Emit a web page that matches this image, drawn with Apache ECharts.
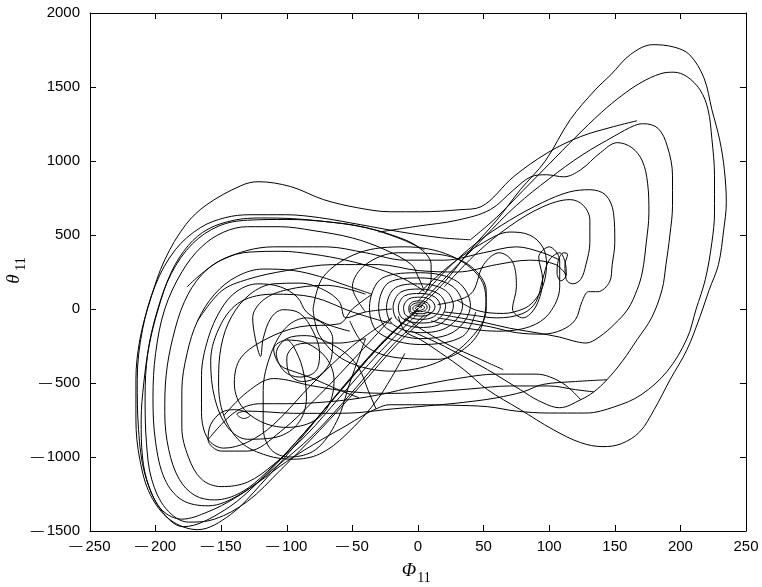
<!DOCTYPE html>
<html>
<head>
<meta charset="utf-8">
<script src="https://cdn.jsdelivr.net/npm/echarts@6/dist/echarts.min.js"></script>
<style>
html,body{margin:0;padding:0;background:#fff;}
#chart{width:762px;height:587px;}
</style>
</head>
<body>
<div id="chart"></div>
<script>
// Axis ticks
const xTicks = [-250, -200, -150, -100, -50, 0, 50, 100, 150, 200, 250];
const yTicks = [-1500, -1000, -500, 0, 500, 1000, 1500, 2000];

// Trajectory pieces: [phi11, theta11]
const centerSpiral = [[2,6],[3,14],[1,18],[-1,14],[-2,5],[-1,-5],[1,-10],[3,-6],
[5,8],[4,22],[1,28],[-2,24],[-4,6],[-3,-12],[1,-18],[5,-12],
[7,10],[6,32],[2,42],[-3,36],[-6,8],[-5,-22],[2,-32],[7,-24],
[9,12],[7,42],[2,55],[-4,48],[-7,10],[-6,-30],[2,-48],[9,-35],
[13,14],[10,60],[2,80],[-7,68],[-11,10],[-9,-45],[2,-70],[12,-52],
[17,16],[13,80],[2,105],[-10,90],[-15,10],[-12,-62],[2,-95],[15,-72],
[21,18],[16,100],[2,135],[-13,115],[-19,10],[-15,-80],[2,-125],[18,-95],
[27,20],[21,125],[2,170],[-17,145],[-24,10],[-19,-105],[2,-160],[23,-120],
[34,22],[26,155],[2,210],[-22,180],[-30,10],[-24,-130],[2,-200],[28,-150],
[40,25],[30,185],[2,245],[-27,210],[-37,10],[-30,-160],[2,-240],[34,-185],[44,-20]];

const loopL1 = [[0,5],[-29,-241],[-59,-545],[-90,-883],[-120,-1187],[-143,-1390],[-168,-1491],[-189,-1424],[-204,-1255],[-212,-1018],[-215,-748],[-215,-478],[-212,-207],[-204,63],[-193,333],[-177,570],[-161,705],[-135,833],[-122,860],[-97,827],[-72,739],[-46,684],[-21,657],[2,657],[32,671],[48,691],[73,895],[99,1057],[124,1165],[149,1232],[167,1272]];

const loopL2 = [[0,-10],[-25,-207],[-55,-512],[-86,-829],[-116,-1120],[-147,-1356],[-179,-1471],[-196,-1356],[-208,-1120],[-213,-816],[-214,-478],[-210,-140],[-200,165],[-185,400],[-166,549],[-147,617],[-128,637],[-101,637],[-75,617],[-44,570],[-14,522],[17,482],[40,468]];

const loopL3 = [[5,-40],[-20,-250],[-50,-560],[-80,-850],[-110,-1080],[-135,-1250],[-160,-1330],[-180,-1290],[-193,-1150],[-200,-900],[-202,-600],[-200,-300],[-193,0],[-180,250],[-165,420],[-148,520],[-130,556],[-105,556],[-80,530],[-50,480],[-25,400],[-5,300],[0,220],[4,140]];

const loopL4 = [[0,0],[-30,-260],[-60,-560],[-90,-870],[-115,-1100],[-135,-1240],[-155,-1290],[-170,-1260],[-182,-1150],[-190,-950],[-193,-700],[-192,-450],[-187,-200],[-178,50],[-165,230],[-148,340],[-128,385],[-105,390],[-80,370],[-55,330],[-30,270],[-10,200],[5,120]];

const loopL5 = [[0,-30],[-30,-300],[-60,-600],[-85,-850],[-110,-1050],[-130,-1170],[-150,-1200],[-165,-1150],[-175,-1000],[-180,-800],[-180,-550],[-176,-300],[-168,-80],[-155,100],[-138,220],[-118,270],[-95,260],[-75,220],[-55,160],[-35,100]];

const loopL6 = [[-20,-60],[-50,-250],[-80,-500],[-110,-780],[-130,-900],[-148,-940],[-160,-880],[-165,-700],[-165,-450],[-160,-200],[-150,0],[-138,120],[-122,170],[-105,150],[-92,80],[-85,-20],[-70,-100],[-52,-150]];

const loopL7 = [[-40,100],[-70,160],[-100,130],[-118,60],[-126,-60],[-124,-200],[-120,-320],[-118,-200],[-112,-60],[-103,-5],[-90,-30],[-80,-150],[-75,-300],[-78,-420],[-90,-460],[-102,-420],[-108,-300],[-100,-200],[-85,-180],[-70,-220],[-55,-300],[-45,-400],[-38,-550],[-32,-675]];

const loopL8 = [[-20,-60],[-45,-300],[-75,-580],[-105,-830],[-130,-960],[-150,-960],[-160,-883],[-158,-780],[-150,-700],[-140,-680],[-133,-690],[-128,-720],[-133,-740],[-138,-710],[-130,-690],[-115,-695],[-95,-705],[-70,-705],[-45,-700],[-25,-680],[0,-660],[25,-640],[45,-620],[60,-600],[80,-560],[95,-510],[120,-490],[144,-478]];

const loopL9 = [[-10,-300],[-30,-600],[-55,-850],[-75,-980],[-95,-1015],[-115,-990],[-135,-900],[-148,-720],[-152,-500],[-150,-250],[-142,-50],[-128,100],[-110,170],[-90,175],[-72,130],[-60,50],[-55,-60],[-40,-20],[-20,0]];

const loopL10 = [[-40,-200],[-52,-500],[-62,-760],[-78,-950],[-98,-1000],[-112,-950],[-118,-800],[-118,-550],[-112,-300],[-100,-120],[-85,-60],[-72,-100],[-65,-200],[-66,-330],[-75,-450],[-88,-490],[-98,-440],[-100,-330],[-92,-240],[-80,-230],[-60,-230],[-40,-200]];

const loopL11 = [[10,-20],[-15,-230],[-45,-530],[-75,-820],[-105,-1090],[-130,-1300],[-155,-1420],[-175,-1440],[-192,-1350],[-203,-1150],[-207,-900],[-208,-600],[-206,-300],[-199,-20],[-188,240],[-172,440],[-152,560],[-130,600],[-100,605],[-70,590],[-40,550],[-15,480],[5,400]];

const loopL12 = [[-35,100],[-50,0],[-60,-100],[-90,-120],[-115,-200],[-135,-330],[-140,-500],[-135,-650],[-120,-760],[-100,-800],[-80,-760],[-68,-650],[-64,-480],[-70,-330],[-85,-230],[-100,-210],[-110,-270],[-105,-380],[-92,-430],[-80,-470],[-62,-540],[-45,-600]];

const loopL13 = [[-20,-100],[-50,-20],[-80,80],[-110,100],[-135,50],[-150,-100],[-158,-350],[-155,-600],[-145,-800],[-130,-880],[-110,-870],[-92,-780],[-85,-600],[-88,-400],[-95,-250],[-100,-200]];

const loopR1 = [[0,0],[20,180],[40,400],[60,600],[78,806],[97,1000],[116,1279],[135,1480],[147,1583],[162,1720],[179,1786],[195,1770],[207,1718],[218,1560],[224,1347],[230,1140],[233.5,941],[235,720],[233,535],[229,300],[222,131],[215,-50],[205,-275],[192,-480],[180,-680],[169,-830],[155,-910],[141,-930],[124,-903],[103,-815],[78,-680],[53,-545],[35,-410],[17,-295],[2,-207],[-10,-150],[-15,-50]];

const loopR2 = [[40,468],[60,620],[80,800],[100,980],[120,1160],[140,1330],[155,1440],[170,1530],[185,1590],[195,1600],[205,1570],[215,1480],[221,1350],[224,1150],[226,900],[226,650],[224,450],[219,200],[212,0],[205,-200],[190,-420],[170,-580],[150,-660],[128,-703],[100,-703],[75,-690],[53,-660],[25,-650],[2,-647],[-22,-647],[-32,-675],[-42,-720],[-55,-790],[-73,-880],[-100,-1030],[-120,-1160],[-140,-1280],[-160,-1370],[-180,-1420],[-195,-1360],[-205,-1200],[-210,-1000],[-211,-750],[-209,-500],[-205,-250],[-198,0],[-188,250],[-175,430],[-160,540],[-140,600],[-120,615],[-95,610],[-70,590],[-45,560],[-20,500],[0,420],[10,300],[10,200],[5,100]];

const loopR3 = [[0,20],[25,250],[50,480],[75,700],[100,880],[125,1040],[150,1170],[165,1240],[172,1252],[183,1220],[190,1100],[194,900],[194,700],[192,500],[189,300],[186,130],[178,-60],[167,-207],[156,-350],[144,-478],[134,-560],[124,-613],[108,-667],[92,-620],[78,-545],[53,-410],[35,-322],[15,-230],[-5,-150]];

const loopR4 = [[-30,520],[0,560],[30,600],[55,671],[73,806],[86,893],[98,907],[111,893],[124,941],[139,1056],[152,1124],[163,1090],[171,1000],[175,850],[176,650],[174,450],[171,250],[167,130],[160,0],[150,-100],[138,-190],[128,-230],[118,-215],[108,-190],[90,-160],[70,-130],[50,-90],[27,-52],[5,-20]];

const loopR5 = [[0,50],[20,250],[45,450],[70,600],[95,720],[115,790],[131,806],[143,770],[149,650],[150,450],[148,300],[146,183],[137,117],[130,117],[125,50],[120,-72],[110,-140],[95,-170],[75,-160],[55,-120],[35,-90],[15,-60]];

const loopR6 = [[20,150],[45,380],[70,560],[95,690],[116,739],[126,700],[131,600],[131,450],[128,300],[124,200],[118,170],[113,200],[112,300],[114,370],[111,380],[107,330],[106,240],[109,190],[113,230],[112,320],[108,380],[100,330],[95,200],[90,50],[80,-30],[60,-60],[40,-40],[20,-20]];

const loopR7 = [[15,30],[40,100],[50,300],[62,380],[72,320],[75,150],[72,0],[80,-60],[90,20],[95,200],[92,350],[100,420],[108,330],[108,150],[100,-30],[85,-120],[60,-150],[30,-120],[10,-80]];

const loopR8 = [[0,100],[25,300],[50,450],[70,520],[85,500],[95,420],[98,300],[95,150],[88,50],[80,0],[65,-30],[45,-10],[30,60]];

const ringMid1 = [[-40,-20],[-50,150],[-40,300],[-15,380],[15,370],[40,290],[52,120],[50,-80],[38,-250],[15,-340],[-15,-330],[-40,-250],[-52,-80]];
const ringMid2 = [[-80,0],[-72,220],[-45,380],[-10,420],[25,360],[48,200],[52,0],[40,-200],[15,-360],[-20,-420],[-55,-350],[-75,-180],[-80,0]];

const midHigh1 = [[-176,150],[-150,330],[-110,420],[-70,420],[-40,380],[-10,330],[20,330],[50,380],[75,420],[95,380],[108,330]];
const midHigh2 = [[-168,-80],[-150,120],[-130,200],[-100,260],[-65,300],[-30,300],[0,260],[30,250],[60,300],[85,330],[105,300],[113,230]];
const midLow1 = [[-148,-720],[-130,-560],[-110,-470],[-80,-520],[-50,-560],[-20,-570],[10,-560],[40,-540],[70,-520],[100,-520],[120,-545],[134,-560]];
const midLow2 = [[-160,-883],[-140,-700],[-120,-640],[-100,-640],[-60,-620],[-30,-580],[0,-520],[30,-470],[60,-440],[90,-440],[110,-500],[124,-613]];
const startPiece = [[65,-410],[45,-330],[25,-250],[5,-150],[-10,-60]];

const pieces = [centerSpiral, loopL1, loopL2, loopL3, loopL4, loopL5, loopL6, loopL7, loopL8,
  loopL9, loopL10, loopL11, loopL12, loopL13,
  loopR1, loopR2, loopR3, loopR4, loopR5, loopR6, loopR7, loopR8,
  ringMid1, ringMid2, midHigh1, midHigh2, midLow1, midLow2, startPiece];

const chart = echarts.init(document.getElementById('chart'), null, {renderer: 'canvas'});
const labelFont = 'Liberation Sans, Arial, sans-serif';
function fmt(v) {
  if (v < 0) return '{d|\u2014}\u2009' + Math.abs(v);
  return String(v);
}
const labelStyle = {color: '#000', fontSize: 15, fontFamily: labelFont,
  rich: {d: {fontSize: 13, fontFamily: labelFont, color: '#000'}}};
function xAx(pos, show) {
  return {type: 'value', position: pos, min: xTicks[0], max: xTicks[xTicks.length-1], interval: 50,
    axisLine: {show: true, onZero: false, lineStyle: {color: '#000', width: 1}},
    axisTick: {show: true, inside: true, length: 6, lineStyle: {color: '#000'}},
    axisLabel: {show: show, margin: 8, formatter: fmt, ...labelStyle},
    splitLine: {show: false}};
}
function yAx(pos, show) {
  return {type: 'value', position: pos, min: yTicks[0], max: yTicks[yTicks.length-1], interval: 500,
    axisLine: {show: true, onZero: false, lineStyle: {color: '#000', width: 1}},
    axisTick: {show: true, inside: true, length: 6, lineStyle: {color: '#000'}},
    axisLabel: {show: show, margin: 10, formatter: fmt, ...labelStyle},
    splitLine: {show: false}};
}
const serif = 'Liberation Serif, DejaVu Serif, serif';
chart.setOption({
  animation: false,
  backgroundColor: '#fff',
  grid: {left: 90, right: 16, top: 13, bottom: 56},
  xAxis: [xAx('bottom', true), xAx('top', false)],
  yAxis: [yAx('left', true), yAx('right', false)],
  series: pieces.map(p => ({
    type: 'line', data: p, xAxisIndex: 0, yAxisIndex: 0,
    symbol: 'none', showSymbol: false, smooth: 0.35,
    lineStyle: {color: '#000', width: 1}, silent: true
  })),
  graphic: [
    {type: 'text', x: 409, y: 571, style: {text: '\u03A6', font: 'italic 19px ' + serif, fill: '#000', textAlign: 'center', textVerticalAlign: 'middle', align: 'center', verticalAlign: 'middle'}},
    {type: 'text', x: 424, y: 578, style: {text: '11', font: '14px ' + serif, fill: '#000', textAlign: 'center', textVerticalAlign: 'middle', align: 'center', verticalAlign: 'middle'}},
    {type: 'text', x: 14, y: 279, rotation: Math.PI/2, style: {text: '\u03B8', font: 'italic 19px ' + serif, fill: '#000', textAlign: 'center', textVerticalAlign: 'middle', align: 'center', verticalAlign: 'middle'}},
    {type: 'text', x: 21, y: 264, rotation: Math.PI/2, style: {text: '11', font: '14px ' + serif, fill: '#000', textAlign: 'center', textVerticalAlign: 'middle', align: 'center', verticalAlign: 'middle'}}
  ]
});
</script>
</body>
</html>
